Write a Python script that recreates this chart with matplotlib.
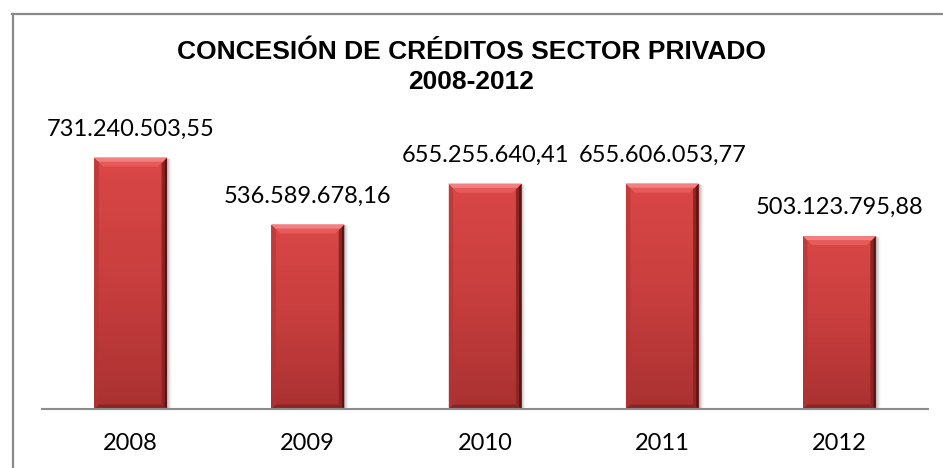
import matplotlib
matplotlib.use("Agg")
import matplotlib.pyplot as plt
import numpy as np
from matplotlib.patches import Polygon, Rectangle
from matplotlib.lines import Line2D
from matplotlib.colors import LinearSegmentedColormap

# Private-sector credit granted per year
years = ["2008", "2009", "2010", "2011", "2012"]
credits = [731240503.55, 536589678.16, 655255640.41, 655606053.77, 503123795.88]

title_text = "CONCESIÓN DE CRÉDITOS SECTOR PRIVADO\n2008-2012"


def es_format(v):
    """Spanish number format: '.' thousands, ',' decimals."""
    s = f"{v:,.2f}"
    return s.replace(",", "X").replace(".", ",").replace("X", ".")


W, H, DPI = 943, 468, 100
fig = plt.figure(figsize=(W / DPI, H / DPI), dpi=DPI)
fig.patch.set_facecolor("white")

# outer chart frame (left and top edges)
frame_col = "#8a8a8a"
fig.add_artist(Line2D([12.5 / W, 12.5 / W], [0, 1 - 13.5 / H], color=frame_col,
                      lw=1.6, transform=fig.transFigure))
fig.add_artist(Line2D([12 / W, 1], [1 - 13.5 / H, 1 - 13.5 / H], color=frame_col,
                      lw=1.6, transform=fig.transFigure))

ax_left, ax_right = 42 / W, 928 / W
ax_bottom, ax_top = (H - 409) / H, (H - 134) / H
ax = fig.add_axes([ax_left, ax_bottom, ax_right - ax_left, ax_top - ax_bottom])
ax.set_xlim(-0.5, len(years) - 0.5)
ax.set_ylim(0, 800e6)

x = np.arange(len(years))
bars = ax.bar(x, credits, width=0.41, color="#c83c3c", edgecolor="none", zorder=3)

for s in ["top", "left", "right"]:
    ax.spines[s].set_visible(False)
ax.spines["bottom"].set_color("#8c8c8c")
ax.spines["bottom"].set_linewidth(1.5)
ax.spines["bottom"].set_zorder(5)
ax.set_yticks([])
ax.set_xticks(x)
ax.set_xticklabels(years, fontsize=17, family="Lato", color="black")
ax.tick_params(axis="x", length=0, pad=17)

fig.canvas.draw()
# pixel -> data conversion factors
px_x = (ax.get_xlim()[1] - ax.get_xlim()[0]) / (ax.bbox.width)
px_y = (ax.get_ylim()[1] - ax.get_ylim()[0]) / (ax.bbox.height)

face_cmap = LinearSegmentedColormap.from_list("face", ["#da4747", "#c83e3e", "#aa3131"])
bev = 9  # bevel size in pixels

for b in bars:
    x0, w, h = b.get_x(), b.get_width(), b.get_height()
    x1 = x0 + w
    dx, dy = bev * px_x, bev * px_y

    # soft drop shadow on the right/bottom
    for k, a in zip(range(1, 6), [0.10, 0.08, 0.06, 0.04, 0.02]):
        ax.add_patch(Rectangle((x0 + k * px_x, 0), w, h - k * px_y * 0.3,
                               facecolor="black", alpha=a, edgecolor="none", zorder=2))

    # vertical gradient on the face
    grad = np.linspace(0, 1, 256).reshape(-1, 1)
    im = ax.imshow(grad, cmap=face_cmap, aspect="auto",
                   extent=(x0, x1, 0, h), origin="upper", zorder=3.1)
    im.set_clip_path(b)

    # top bevel (light)
    ax.add_patch(Polygon([(x0, h), (x1, h), (x1 - dx, h - dy), (x0 + dx, h - dy)],
                         closed=True, facecolor="#e65a5a", edgecolor="none", zorder=3.3))
    ax.add_patch(Polygon([(x0, h), (x1, h), (x1 - dx * 0.45, h - dy * 0.45),
                          (x0 + dx * 0.45, h - dy * 0.45)],
                         closed=True, facecolor="#f28080", edgecolor="none", zorder=3.35))
    # left bevel (slightly darker than face)
    ax.add_patch(Polygon([(x0, h), (x0 + dx * 0.5, h - dy * 0.5), (x0 + dx * 0.5, dy * 0.5), (x0, 0)],
                         closed=True, facecolor="#b23434", alpha=0.6, edgecolor="none", zorder=3.2))
    # right bevel (dark)
    ax.add_patch(Polygon([(x1, h), (x1 - dx * 0.6, h - dy * 0.6), (x1 - dx * 0.6, dy * 0.6), (x1, 0)],
                         closed=True, facecolor="#8e2525", edgecolor="none", zorder=3.2))
    ax.add_patch(Polygon([(x1, h), (x1 - dx * 0.25, h - dy * 0.25), (x1 - dx * 0.25, dy * 0.25), (x1, 0)],
                         closed=True, facecolor="#5a1414", edgecolor="none", zorder=3.25))
    # bottom bevel (dark)
    ax.add_patch(Polygon([(x0, 0), (x1, 0), (x1 - dx * 0.5, dy * 0.5), (x0 + dx * 0.5, dy * 0.5)],
                         closed=True, facecolor="#7e2020", alpha=0.7, edgecolor="none", zorder=3.2))

    ax.annotate(es_format(h), xy=(b.get_x() + w / 2, h), xytext=(0, 13),
                textcoords="offset points", ha="center", va="bottom",
                fontsize=17, family="Lato", color="black", zorder=6)

fig.text(0.5, 1 - 40 / H, title_text, ha="center", va="top", fontsize=19,
         fontweight="bold", family="Liberation Sans", linespacing=1.32)

fig.savefig("out.png", dpi=DPI, facecolor="white")
